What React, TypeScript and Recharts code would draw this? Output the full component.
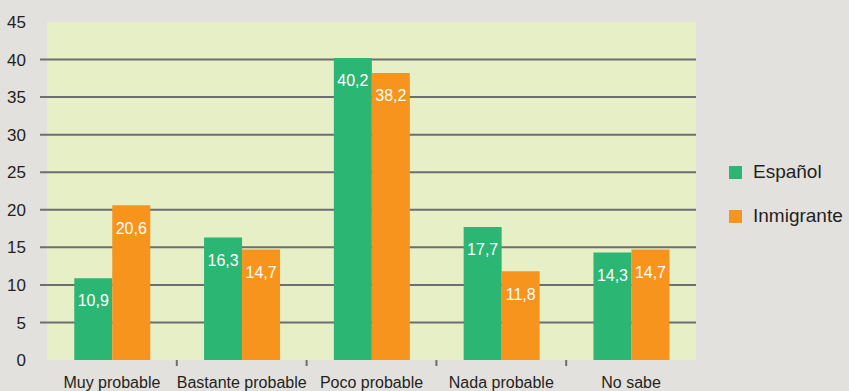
import { BarChart, Bar, XAxis, YAxis, CartesianGrid, LabelList } from "recharts";

const categories = ["Muy probable", "Bastante probable", "Poco probable", "Nada probable", "No sabe"];
const espanol = [10.9, 16.3, 40.2, 17.7, 14.3];
const inmigrante = [20.6, 14.7, 38.2, 11.8, 14.7];
const yTicks = [0, 5, 10, 15, 20, 25, 30, 35, 40, 45];

const data = categories.map((name, i) => ({
  name,
  espanol: espanol[i],
  inmigrante: inmigrante[i],
}));

const W = 849;
const H = 391;
const margin = { top: 22, right: 153, bottom: 0, left: 0 };
const yAxisWidth = 47;
const xAxisHeight = 31;
const plotTop = margin.top;
const plotBottom = H - margin.bottom - xAxisHeight;
const band = (W - margin.left - yAxisWidth - margin.right) / categories.length;

const GREEN = "#2bb673";
const ORANGE = "#f7941e";
const GRID = "#6d6e70";
const TEXT = "#231f20";
const FONT = "'Liberation Sans', Arial, sans-serif";

const fmt = (v: any) => String(v).replace(".", ",");

const GridLine = (p: any) => {
  if (p.y1 <= plotTop + 1 || p.y1 >= plotBottom - 1) return <g key={p.key} />;
  return <line key={p.key} x1={p.x1 - 7} x2={p.x2} y1={p.y1} y2={p.y2} stroke={GRID} strokeWidth={2} />;
};

const YTick = (p: any) => (
  <text x={p.x - 13} y={p.y} dy="0.36em" textAnchor="end" fontSize={17} fill={TEXT} fontFamily={FONT}>
    {p.payload.value}
  </text>
);

const XTick = (p: any) => (
  <g>
    {p.index > 0 && (
      <line x1={p.x - band / 2} x2={p.x - band / 2} y1={plotBottom} y2={plotBottom + 6} stroke={GRID} strokeWidth={2} />
    )}
    <text x={p.x} y={plotBottom + 28} textAnchor="middle" fontSize={16} fill={TEXT} fontFamily={FONT}>
      {p.payload.value}
    </text>
  </g>
);

const legendItems = [
  { label: "Español", color: GREEN },
  { label: "Inmigrante", color: ORANGE },
];

const LegendBox = () => (
  <div style={{ position: "absolute", left: 729, top: 150, fontFamily: FONT, fontSize: 19, color: TEXT }}>
    {legendItems.map((it) => (
      <div key={it.label} style={{ display: "flex", alignItems: "center", height: 44 }}>
        <span style={{ width: 13, height: 13, background: it.color, display: "inline-block", marginRight: 11 }} />
        <span>{it.label}</span>
      </div>
    ))}
  </div>
);

export default function App() {
  return (
    <div style={{ position: "absolute", left: 0, top: 0, width: W, height: H, background: "#e3e1de" }}>
      <BarChart width={W} height={H} data={data} margin={margin} barCategoryGap="21%" barGap={0}>
        <CartesianGrid vertical={false} horizontal={GridLine} fill="#e6efc5" fillOpacity={1} stroke="none" />
        <XAxis
          dataKey="name"
          height={xAxisHeight}
          axisLine={false}
          tickLine={false}
          interval={0}
          tick={XTick}
        />
        <YAxis
          width={yAxisWidth}
          domain={[0, 45]}
          ticks={yTicks}
          axisLine={false}
          tickLine={false}
          tick={YTick}
        />
        <Bar dataKey="espanol" fill={GREEN} isAnimationActive={false}>
          <LabelList dataKey="espanol" position="insideTop" offset={17} formatter={fmt} fill="#ffffff" fontSize={16} fontFamily={FONT} />
        </Bar>
        <Bar dataKey="inmigrante" fill={ORANGE} isAnimationActive={false}>
          <LabelList dataKey="inmigrante" position="insideTop" offset={17} formatter={fmt} fill="#ffffff" fontSize={16} fontFamily={FONT} />
        </Bar>
      </BarChart>
      <LegendBox />
    </div>
  );
}
